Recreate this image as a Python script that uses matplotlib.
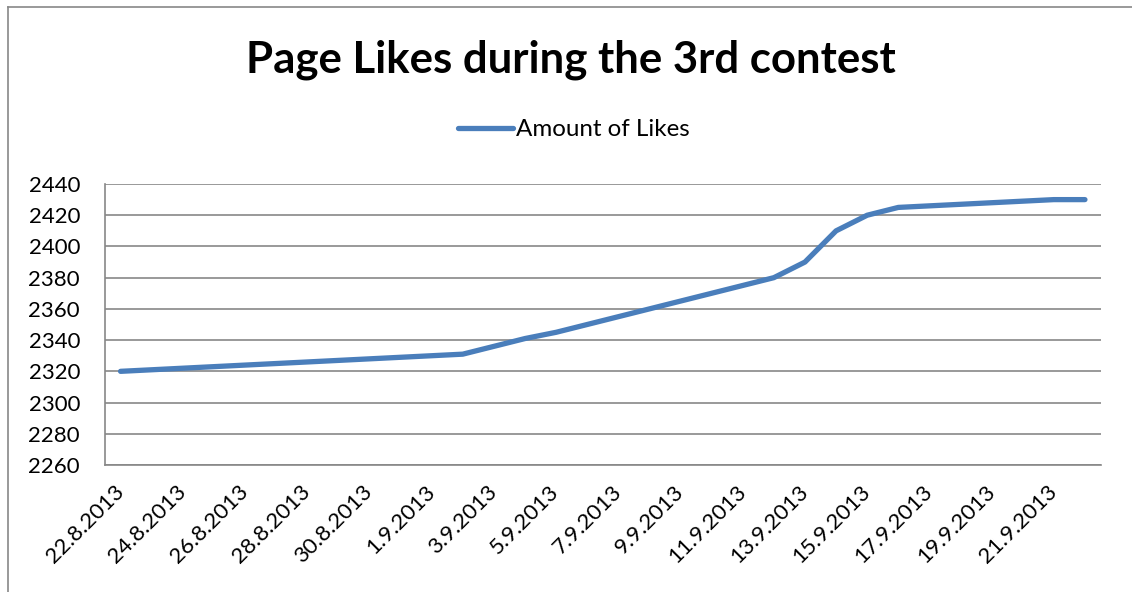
import matplotlib
matplotlib.use('Agg')
import matplotlib.pyplot as plt
from matplotlib.lines import Line2D

plt.rcParams['font.family'] = ['Lato', 'DejaVu Sans']

# daily page likes, 22.8.2013 - 22.9.2013
dates = ['22.8.2013', '23.8.2013', '24.8.2013', '25.8.2013', '26.8.2013',
         '27.8.2013', '28.8.2013', '29.8.2013', '30.8.2013', '31.8.2013',
         '1.9.2013', '2.9.2013', '3.9.2013', '4.9.2013', '5.9.2013',
         '6.9.2013', '7.9.2013', '8.9.2013', '9.9.2013', '10.9.2013',
         '11.9.2013', '12.9.2013', '13.9.2013', '14.9.2013', '15.9.2013',
         '16.9.2013', '17.9.2013', '18.9.2013', '19.9.2013', '20.9.2013',
         '21.9.2013', '22.9.2013']
likes = [2320, 2321, 2322, 2323, 2324, 2325, 2326, 2327, 2328, 2329,
         2330, 2331, 2336, 2341, 2345, 2350, 2355, 2360, 2365, 2370,
         2375, 2380, 2390, 2410, 2420, 2425, 2426, 2427, 2428, 2429,
         2430, 2430]
yticks = list(range(2260, 2441, 20))

W, H = 1132, 592
fig = plt.figure(figsize=(W / 100, H / 100), dpi=100)
ax = fig.add_axes([105 / W, 1 - 465 / H, (1100.5 - 105) / W, (465 - 184) / H])

x = list(range(len(dates)))
ax.plot(x, likes, color='#4a7ebb', lw=3.8, solid_capstyle='round',
        solid_joinstyle='round', label='Amount of Likes')

ax.set_xlim(-0.5, len(dates) - 0.5)
ax.set_ylim(2260, 2440)
ax.set_yticks(yticks)
ax.set_yticklabels([str(v) for v in yticks], fontsize=16)
ax.yaxis.grid(True, color='#878787', lw=1.2)
ax.set_axisbelow(True)

ax.set_xticks(x[::2])
ax.set_xticklabels(dates[::2], rotation=45, ha='right', va='center',
                   rotation_mode='anchor', fontsize=16)
ax.tick_params(axis='x', length=0, pad=17)
ax.tick_params(axis='y', length=0, pad=18)

for side in ['top', 'right']:
    ax.spines[side].set_visible(False)
ax.spines['left'].set_color('#878787')
ax.spines['bottom'].set_color('#878787')
ax.spines['left'].set_linewidth(1.2)
ax.spines['bottom'].set_linewidth(1.2)

fig.text(571 / W, 1 - 73 / H, 'Page Likes during the 3rd contest',
         fontsize=31.5, fontweight='bold', ha='center', va='baseline')

fig.legend(loc='center', bbox_to_anchor=(574 / W, 1 - 130 / H), frameon=False,
           fontsize=17.4, handlelength=2.3, handletextpad=0.12)

# outer chart frame (left and top edges)
fig.add_artist(Line2D([8 / W, 8 / W], [0, 1 - 7 / H], color='#888888', lw=1.2))
fig.add_artist(Line2D([8 / W, 1], [1 - 7 / H, 1 - 7 / H], color='#888888', lw=1.2))

fig.savefig('out.png', dpi=100)
